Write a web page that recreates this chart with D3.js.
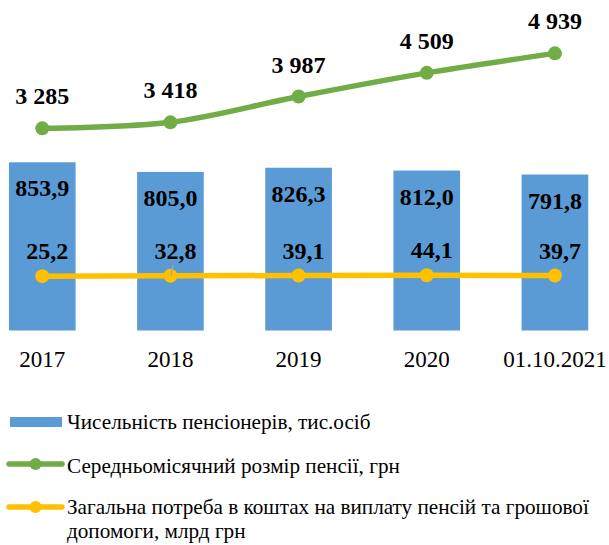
<!DOCTYPE html>
<html><head><meta charset="utf-8">
<script src="https://cdn.jsdelivr.net/npm/d3@7"></script>
<style>body{margin:0;background:#fff}svg{display:block}svg text{font-family:"Liberation Serif","Times New Roman",serif}</style>
</head><body><svg id="c" width="609" height="545"></svg>
<script>
const categories = ["2017", "2018", "2019", "2020", "01.10.2021"];
const pensioners = [853.9, 805.0, 826.3, 812.0, 791.8];
const avgPension = [3285, 3418, 3987, 4509, 4939];
const totalNeed = [25.2, 32.8, 39.1, 44.1, 39.7];
const seriesNames = [
  "Чисельність пенсіонерів, тис.осіб",
  "Середньомісячний розмір пенсії, грн",
  "Загальна потреба в коштах на виплату пенсій та грошової",
  "допомоги, млрд грн"
];

const BLUE = "#5B9BD5", GREEN = "#70AD47", YELLOW = "#FFC000";

const loc = d3.formatLocale({decimal: ",", thousands: " ", grouping: [3], currency: ["", ""]});
const fInt = loc.format(",.0f");
const fDec = loc.format(".1f");

const svg = d3.select("#c");
const x = d3.scaleBand().domain(categories).range([-21.8, 619]).paddingInner(0.48).paddingOuter(0.24);
const y1 = d3.scaleLinear().domain([0, 1000]).range([330.5, 133.5]);
const y2 = d3.scaleLinear().domain([0, 5000]).range([277.3, 50.6]);
const cx = c => x(c) + x.bandwidth() / 2;

// bars
svg.append("g").selectAll("rect").data(categories).join("rect")
  .attr("x", d => x(d)).attr("width", x.bandwidth())
  .attr("y", (d, i) => y1(pensioners[i]))
  .attr("height", (d, i) => y1(0) - y1(pensioners[i]))
  .attr("fill", BLUE);

svg.append("g").selectAll("text").data(categories).join("text")
  .attr("x", d => cx(d)).attr("y", (d, i) => y1(pensioners[i]) + 34)
  .attr("text-anchor", "middle").style("font-weight", "bold")
  .style("font-size", "24px").attr("fill", "#000")
  .text((d, i) => fDec(pensioners[i]));

// axis
const ax = svg.append("g").attr("transform", `translate(0,${y1(0)})`)
  .call(d3.axisBottom(x).tickSize(0).tickPadding(20));
ax.select(".domain").remove();
ax.selectAll("text").style("font-size", "23px").attr("fill", "#000");

// green line
const gLine = d3.line().x((d, i) => cx(categories[i])).y(d => y2(d)).curve(d3.curveCatmullRom.alpha(0.5));
svg.append("path").datum(avgPension).attr("d", gLine)
  .attr("fill", "none").attr("stroke", GREEN).attr("stroke-width", 5.5).attr("stroke-linecap", "round");
svg.append("g").selectAll("circle").data(avgPension).join("circle")
  .attr("cx", (d, i) => cx(categories[i])).attr("cy", d => y2(d)).attr("r", 7).attr("fill", GREEN);
svg.append("g").selectAll("text").data(avgPension).join("text")
  .attr("x", (d, i) => cx(categories[i])).attr("y", d => y2(d) - 24)
  .attr("text-anchor", "middle").style("font-weight", "bold")
  .style("font-size", "24px").attr("fill", "#000").text(d => fInt(d));

// yellow line
const yLine = d3.line().x((d, i) => cx(categories[i])).y(d => y2(d));
svg.append("path").datum(totalNeed).attr("d", yLine)
  .attr("fill", "none").attr("stroke", YELLOW).attr("stroke-width", 5.5);
svg.append("g").selectAll("circle").data(totalNeed).join("circle")
  .attr("cx", (d, i) => cx(categories[i])).attr("cy", d => y2(d)).attr("r", 7).attr("fill", YELLOW);
// leader line for 2018 label
svg.append("line")
  .attr("x1", cx(categories[1]) + 2.5).attr("y1", y2(totalNeed[1]) - 11)
  .attr("x2", cx(categories[1]) + 0.5).attr("y2", y2(totalNeed[1]))
  .attr("stroke", "#A6A6A6").attr("stroke-width", 1.2);
svg.append("g").selectAll("text").data(totalNeed).join("text")
  .attr("x", (d, i) => cx(categories[i]) + 5).attr("y", d => y2(d) - 17)
  .attr("text-anchor", "middle").style("font-weight", "bold")
  .style("font-size", "24px").attr("fill", "#000").text(d => fDec(d));

// legend
const lg = svg.append("g").style("font-size", "21.2px").attr("fill", "#000");
lg.append("rect").attr("x", 10).attr("y", 417).attr("width", 52).attr("height", 10).attr("fill", BLUE);
lg.append("text").attr("x", 67).attr("y", 429).text(seriesNames[0]);
lg.append("line").attr("x1", 9).attr("x2", 62).attr("y1", 464).attr("y2", 464)
  .attr("stroke", GREEN).attr("stroke-width", 5.5).attr("stroke-linecap", "round");
lg.append("circle").attr("cx", 35.5).attr("cy", 464).attr("r", 6).attr("fill", GREEN);
lg.append("text").attr("x", 67).attr("y", 473).text(seriesNames[1]);
lg.append("line").attr("x1", 9).attr("x2", 62).attr("y1", 507).attr("y2", 507)
  .attr("stroke", YELLOW).attr("stroke-width", 5.5).attr("stroke-linecap", "round");
lg.append("circle").attr("cx", 35.5).attr("cy", 507).attr("r", 6).attr("fill", YELLOW);
lg.append("text").attr("x", 67).attr("y", 514).text(seriesNames[2]);
lg.append("text").attr("x", 67).attr("y", 538).text(seriesNames[3]);
</script></body></html>
